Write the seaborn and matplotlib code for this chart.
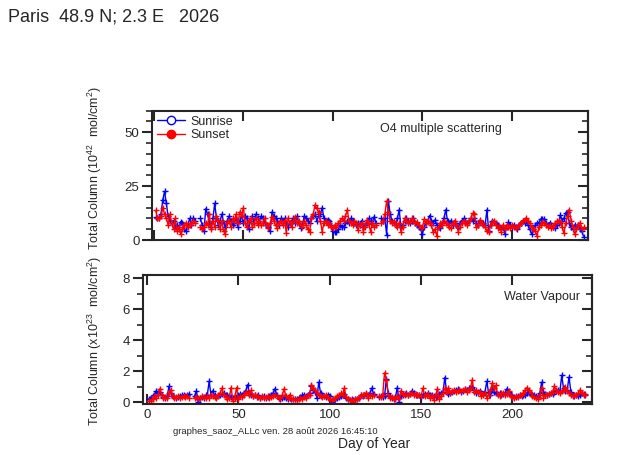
import numpy as np
import matplotlib
matplotlib.use("Agg")
import matplotlib.pyplot as plt
from matplotlib.lines import Line2D
from matplotlib.ticker import MultipleLocator
import seaborn as sns

nan = np.nan

# day of year 1..240
days = list(range(1, 241))

# O4 total column (10^42 mol/cm2)
o4_sunrise = [
    10.5, 10, 10, 12, 18.5, 22.5, 17, 11, 9, 8,
    9, 6, 7, 5, 8.5, 8, 5, 4, 7, 10,
    7, 10, 9, nan, nan, 10, 7, 4, 14.5, 12,
    8, 6, 10, 17, 10, 7, 9, 12, 8, 6,
    9, 11, 9, 7, 8, 10, 6, 9, 11, 8,
    11, 10, 5, 9, 11, 8, 12, 10, 9, 11,
    10, 8, 7, 6, 4, 13, 11, 10, 9, 7,
    10, 9, 10, 8, 6, 8, 9, 10, 8, 11,
    8, 5.5, 7, 11, 10, 9, 8, 10, 11, 12,
    9, 11, 12, 15, 10, 9, 9.5, 9, 7, 4,
    3.5, 3.5, 5, 7, 6, 6, 8, 9, 8, 10,
    9, 8, 7, 8, 7, 9, 6, 7, 8, 10,
    9, 8, 10.8, 8, nan, nan, 10, 9, 10, 2.5,
    18, 12, 9, 8, 7, 10, 14, 6, 7, 9,
    10, 9, 8, 9, 10, 8, 7, 6, 5, 3,
    6, 8, 9, 11.3, 9, 8, 9.3, 7, 6, 5.4,
    8, 10, 14, 9, 8, 9, 7, 8, 7, 6,
    8, 9, 10, 9, 8, 9, 10, 9, 10, 8,
    7, 9, 8, 8, 7, 14, 4, 7, 9, 8.5,
    8, 7, 6, 5, 6, 3, 6, 8.2, 7, 6,
    7, 6, 5, 7, 8, 9, 8, 9, 7, 5,
    2.6, 5, 7, 8, 8, 9.7, 9.7, 9.7, 8, 7,
    8, 7, 6, 5.4, 7, 8, 11.6, 9, 10, 12.5,
    13, 8, 6, 5, 7, 6, 7, 5, 4, 1.5,
]
o4_sunset = [
    14, 10, 10, 11, 15, 12, 10, 7, 12, 8,
    5, 10, 4, 6, 3, 5, 7, 8, 6, 7,
    8, 9, 8, nan, nan, 6, 5, 6, 8, 7,
    12, 5, 9, 6, 11, 9, 5, 9, 4, 3,
    8, 9, 6, 10, 9, 12, 8, 13, 11, 15,
    8, 6, 9, 10, 6, 8, 10, 7, 9, 7,
    8, 10, 7, 5.7, 8, 10.8, 9, 7, 5.4, 8,
    9, 7, 9, 3.4, 10, 8, 6, 9, 10.5, 8,
    9, 7, 6, 9, 7, 5, 3.9, 10, 12, 16.2,
    14.7, 13, 9, 3.9, 8, 9, 7, 8, 6, 5.5,
    7, 6, 8, 9, 10, 9, 11, 13.9, 9, 8,
    7, 9, 8, 4.6, 7, 8, 3.9, 6, 9.3, 7.3,
    3.9, 8, 6, 7, nan, nan, 8, 9, 12, 18,
    13, 8.8, 8, 9, 7, 6, 8, 3.9, 6, 10,
    9, 8, 9, 10, 9, 8, 8.5, 7, 5.4, 6,
    9.6, 8, 9, 8, 7, 3.5, 5, 1.9, 6, 8,
    7, 9, 8, 7, 6, 5.4, 8, 9, 7, 3.9,
    6, 8, 9, 8, 7, 9, 10, 12.3, 11.9, 6,
    7, 9.3, 8, 7, 6, 4, 3.9, 7, 8.5, 9,
    7, 5.5, 6.5, 3.9, 7, 5, 7, 6, 5.5, 7,
    6, 5.5, 6, 7, 8, 9, 9.5, 10, 9, 8,
    6, 5, 4, 2, 6, 7, 8.5, 8, 7, 6,
    7, 5.5, 6, 8, 8.8, 8.8, 8.5, 6, 3.1, 8,
    11, 13.9, 9, 6, 2.6, 5, 7, 8, 5, 6,
]

# water vapour total column (x10^23 mol/cm2)
h2o_sunrise = [
    0.2, 0.3, 0.4, 0.45, 0.75, 0.6, 0.7, 0.5, 0.35, 0.3,
    0.4, 1.03, 0.6, 0.4, 0.35, 0.3, 0.35, 0.4, 0.45, 0.5,
    0.4, 0.45, 0.55, nan, nan, 0.4, 0.75, 0.02, 0.3, 0.35,
    0.3, 0.45, 0.5, 1.35, 0.5, 0.75, 0.45, 0.35, 0.4, 0.5,
    0.55, 0.6, 0.45, 0.5, 0.4, 0.35, 0.3, 0.4, 0.35, 0.45,
    0.55, 0.5, 0.6, 0.75, 1.14, 0.6, 0.45, 0.4, 0.45, 0.35,
    0.5, 0.3, 0.35, 0.4, 0.3, 0.35, 0.4, 0.5, 0.6, 0.88,
    0.5, 0.3, 0.25, 0.3, 0.35, 0.3, 0.25, 0.3, 0.2, 0.25,
    0.2, 0.25, 0.3, 0.35, 0.45, 0.5, 0.4, 0.45, 0.6, 1.03,
    0.8, 0.7, 0.3, 1.3, 0.6, 0.45, 0.4, 0.35, 0.5, 0.4,
    0.0, 0.15, 0.25, 0.3, 0.35, 0.4, 0.5, 0.55, 0.3, 0.2,
    0.15, 0.2, 0.15, 0.2, 0.25, 0.3, 0.5, 0.4, 0.45, 0.55,
    0.5, 0.6, 0.92, 0.55, nan, nan, 0.35, 0.4, 0.38, 0.4,
    1.5, 0.6, 0.4, 0.3, 0.25, 0.35, 0.96, 0.06, 0.4, 0.5,
    0.55, 0.6, 0.5, 0.55, 0.75, 0.6, 0.5, 0.45, 0.5, 0.35,
    0.5, 0.55, 0.5, 0.6, 0.5, 0.45, 0.4, 0.35, 0.4, 0.55,
    0.6, 0.65, 1.6, 0.7, 0.55, 0.6, 0.7, 0.75, 0.8, 0.85,
    0.8, 0.7, 0.75, 0.85, 0.8, 0.9, 0.95, 1.0, 0.8, 0.6,
    0.7, 0.75, 0.6, 0.55, 0.7, 1.35, 0.6, 0.5, 0.88, 0.7,
    0.6, 0.55, 0.6, 0.5, 0.55, 0.6, 0.88, 0.7, 0.5, 0.4,
    0.38, 0.35, 0.4, 0.45, 0.4, 0.45, 0.5, 0.6, 0.7, 0.55,
    0.45, 0.5, 0.4, 0.35, 0.6, 1.3, 0.7, 0.55, 0.5, 0.55,
    0.6, 0.55, 0.7, 0.75, 0.8, 0.7, 1.74, 0.9, 0.75, 0.8,
    1.63, 0.7, 0.5, 0.4, 0.45, 0.4, 0.5, 0.6, 0.55, 0.5,
]
h2o_sunset = [
    0.1, 0.1, 0.2, 0.4, 0.3, 0.5, 0.88, 0.5, 0.3, 0.35,
    0.28, 0.6, 0.8, 0.4, 0.3, 0.35, 0.4, 0.3, 0.35, 0.4,
    0.35, 0.4, 0.3, nan, nan, 0.3, 0.35, 0.3, 0.3, 0.4,
    0.35, 0.3, 0.4, 0.3, 0.45, 0.4, 0.35, 0.3, 0.5, 0.6,
    0.92, 0.5, 0.35, 0.2, 0.3, 0.96, 0.1, 0.3, 0.96, 0.2,
    0.4, 0.35, 0.5, 0.7, 0.6, 0.5, 0.8, 0.4, 0.45, 0.4,
    0.35, 0.3, 0.4, 0.3, 0.35, 0.4, 0.3, 0.35, 0.4, 0.5,
    0.4, 0.3, 0.28, 0.45, 0.88, 0.4, 0.3, 0.5, 0.2, 0.25,
    0.2, 0.15, 0.2, 0.3, 0.25, 0.35, 0.3, 0.5, 0.5, 1.14,
    0.9, 0.8, 0.6, 0.45, 0.4, 0.35, 0.4, 0.45, 0.3, 0.25,
    0.15, 0.2, 0.28, 0.4, 0.45, 0.6, 0.5, 0.92, 0.35, 0.25,
    0.17, 0.15, 0.05, 0.2, 0.25, 0.3, 0.5, 0.45, 0.5, 0.6,
    0.3, 0.5, 0.4, 0.45, nan, nan, 0.4, 0.35, 0.45, 1.9,
    1.45, 0.5, 0.3, 0.35, 0.3, 0.25, 0.4, 0.3, 0.75, 0.55,
    0.5, 0.55, 0.5, 0.55, 0.6, 0.5, 0.55, 0.45, 0.5, 0.4,
    0.92, 0.4, 0.5, 0.55, 0.3, 0.4, 0.17, 0.5, 0.88, 0.2,
    0.4, 0.6, 0.9, 0.7, 0.96, 0.6, 0.75, 0.8, 0.7, 0.75,
    0.8, 0.75, 0.8, 0.85, 0.7, 0.8, 0.9, 1.45, 0.7, 0.8,
    0.6, 0.7, 0.4, 0.5, 0.6, 0.3, 0.5, 0.8, 1.24, 0.9,
    1.1, 0.5, 0.4, 0.6, 0.6, 0.5, 0.55, 0.75, 0.4, 0.35,
    0.3, 0.4, 0.35, 0.45, 0.5, 0.6, 0.8, 0.96, 0.8, 0.6,
    0.4, 0.35, 0.3, 0.24, 0.5, 0.96, 0.3, 0.45, 0.5, 0.55,
    0.6, 0.7, 1.03, 0.8, 0.7, 0.6, 0.75, 0.8, 1.0, 0.75,
    0.6, 0.45, 0.4, 0.5, 0.45, 0.6, 0.8, 0.6, 0.5, 0.55,
]

BLUE = "#0000ff"
RED = "#ff0000"

sns.set_style("ticks")
plt.rcParams["font.family"] = ["Liberation Sans", "DejaVu Sans"]
plt.rcParams["mathtext.default"] = "regular"


def draw(ax, values, color):
    # NaN days break the line, as in the original plot
    ax.plot(days, values, color=color, lw=1.0, marker="+", ms=4, mew=1.0,
            solid_capstyle="butt")


def style_axes(ax, ymajor, yminor):
    for s in ax.spines.values():
        s.set_linewidth(1.5)
        s.set_visible(True)
    ax.xaxis.set_major_locator(MultipleLocator(50))
    ax.yaxis.set_major_locator(MultipleLocator(ymajor))
    ax.yaxis.set_minor_locator(MultipleLocator(yminor))
    ax.tick_params(axis="x", which="major", direction="in", top=True,
                   bottom=True, length=7, width=1.5, labelsize=9.5)
    ax.tick_params(axis="y", which="major", direction="out", left=True,
                   right=False, length=7, width=1.5, labelsize=9.5, pad=2)
    ax.tick_params(axis="y", which="minor", direction="out", left=True,
                   right=False, length=4, width=1.2)
    ax.grid(False)


def right_ticks(ax, major, minor):
    r = ax.secondary_yaxis("right")
    r.yaxis.set_major_locator(MultipleLocator(major))
    r.yaxis.set_minor_locator(MultipleLocator(minor))
    r.tick_params(which="major", direction="in", length=7, width=1.5, labelright=False)
    r.tick_params(which="minor", direction="in", length=4, width=1.2)
    r.spines["right"].set_linewidth(1.5)


fig = plt.figure(figsize=(6.23, 4.55), dpi=100)
fig.patch.set_facecolor("white")

ax1 = fig.add_axes([0.244, 0.4725, 0.700, 0.2845])
draw(ax1, o4_sunrise, BLUE)
draw(ax1, o4_sunset, RED)
ax1.set_xlim(-1, 242.5)
ax1.set_ylim(0, 60)
style_axes(ax1, 25, 5)
ax1.tick_params(axis="x", labelbottom=False)
right_ticks(ax1, 25, 5)
ax1.text(0.663, 0.858, "O4 multiple scattering", transform=ax1.transAxes,
         ha="center", va="center", fontsize=9)

handles = [
    Line2D([], [], color=BLUE, lw=1.0, marker="o", ms=6, mfc="white", mec=BLUE),
    Line2D([], [], color=RED, lw=1.0, marker="o", ms=6, mfc=RED, mec=RED),
]
ax1.legend(handles, ["Sunrise", "Sunset"], loc="upper left", frameon=False,
           fontsize=9, handlelength=2.2, handletextpad=0.5, labelspacing=0.15,
           borderaxespad=0.2, borderpad=0.2)

ax2 = fig.add_axes([0.229, 0.1121, 0.721, 0.2835])
draw(ax2, h2o_sunrise, BLUE)
draw(ax2, h2o_sunset, RED)
ax2.set_xlim(-2.4, 243.5)
ax2.set_ylim(-0.1, 8.2)
style_axes(ax2, 2, 1)
right_ticks(ax2, 2, 1)
ax2.text(0.974, 0.83, "Water Vapour", transform=ax2.transAxes,
         ha="right", va="center", fontsize=9)

fig.text(0.013, 0.963, "Paris  48.9 N; 2.3 E   2026", fontsize=13,
         ha="left", va="center")
fig.text(0.152, 0.63, r"Total Column (10$^{42}$  mol/cm$^{2}$)", rotation=90,
         ha="center", va="center", fontsize=9)
fig.text(0.152, 0.25, r"Total Column (x10$^{23}$  mol/cm$^{2}$)", rotation=90,
         ha="center", va="center", fontsize=9)
fig.text(0.278, 0.051, "graphes_saoz_ALLc ven. 28 août 2026 16:45:10",
         fontsize=6.8, ha="left", va="center")
fig.text(0.600, 0.025, "Day of Year", fontsize=10, ha="center", va="center")

fig.savefig("out.png", dpi=100, facecolor="white")
